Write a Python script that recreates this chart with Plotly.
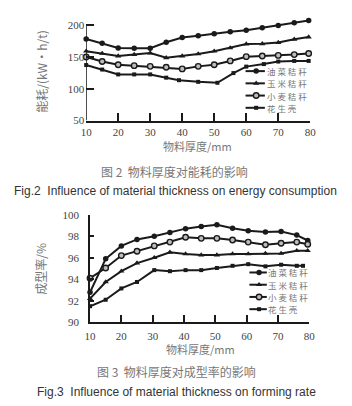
import plotly.graph_objects as go

W, H = 352, 406

# ---------------- data ----------------
series_names = ["油菜秸秆", "玉米秸秆", "小麦秸秆", "花生壳"]

# Fig.2 energy consumption (kW·h/t) vs material thickness (mm)
x_energy = [10, 15, 20, 25, 30, 35, 40, 45, 50, 55, 60, 65, 70, 75, 79.5]
x_energy_peanut = [10, 15, 20, 25, 30, 35, 39, 45, 51, 56, 60, 65.5, 70, 75, 79.5]
rape_energy = [178.6, 172, 164.4, 164, 164, 173.5, 181, 183.7, 187, 190, 192.4, 196.4, 200, 204, 207.6]
corn_energy = [159.3, 155.8, 151.7, 154, 156.3, 149, 151.7, 155, 159.3, 164.4, 170.5, 171, 173, 178, 181.7]
wheat_energy = [150.2, 143, 138, 136.5, 135.4, 134, 131.4, 135.4, 138, 144, 150.7, 151.7, 152.7, 154, 155.8]
peanut_energy = [137.5, 130.4, 122.7, 122.7, 122.7, 117.6, 113.6, 111, 109.5, 124.8, 135, 139, 143, 144, 144]

# Fig.3 forming rate (%) vs material thickness (mm)
x_rate = [10, 15, 20, 25, 30.5, 35.5, 40.5, 45.5, 50.5, 55.5, 60.5, 66, 71, 76, 79.5]
x_rate_peanut = [10, 15, 20, 25, 30.5, 35.5, 40.5, 45.5, 50.5, 55.5, 60.5, 66, 71, 76, 78]
rape_rate = [92.8, 95.9, 97.1, 97.7, 98.0, 98.35, 98.7, 98.9, 99.07, 98.74, 98.5, 98.4, 98.44, 98.1, 97.6]
corn_rate = [92.2, 93.75, 94.75, 95.5, 96.0, 96.5, 96.35, 96.25, 96.25, 96.35, 96.35, 96.4, 96.4, 96.65, 96.65]
wheat_rate = [94.1, 95.05, 96.2, 96.6, 97.1, 97.45, 97.9, 97.8, 97.8, 97.65, 97.45, 97.2, 97.35, 97.45, 97.25]
peanut_rate = [91.5, 92.1, 93.15, 93.75, 94.85, 94.75, 94.85, 94.85, 95.05, 95.25, 95.4, 95.2, 95.35, 95.25, 95.25]

x_ticks = [10, 20, 30, 40, 50, 60, 70, 80]
energy_ticks = [50, 100, 150, 200]
rate_ticks = [90, 92, 94, 96, 98, 100]

# ---------------- styles ----------------
LINE = "#1a1a1a"
markers = [
    dict(symbol="circle", size=5.5, color=LINE),
    dict(symbol="triangle-up", size=5.5, color=LINE),
    dict(symbol="circle", size=5.5, color="#bdbdbd", line=dict(color=LINE, width=1.4)),
    dict(symbol="square", size=4, color=LINE),
]
serif = "Liberation Serif"
cjk = "Noto Sans CJK SC"

fig = go.Figure()

top_sets = [(x_energy, rape_energy), (x_energy, corn_energy), (x_energy, wheat_energy), (x_energy_peanut, peanut_energy)]
bot_sets = [(x_rate, rape_rate), (x_rate, corn_rate), (x_rate, wheat_rate), (x_rate_peanut, peanut_rate)]

for (xs, ys), mk, nm in zip(top_sets, markers, series_names):
    fig.add_trace(go.Scatter(x=xs, y=ys, mode="lines+markers", name=nm, xaxis="x", yaxis="y",
                             line=dict(color=LINE, width=2), marker=mk, showlegend=False, cliponaxis=False))
for (xs, ys), mk, nm in zip(bot_sets, markers, series_names):
    fig.add_trace(go.Scatter(x=xs, y=ys, mode="lines+markers", name=nm, xaxis="x2", yaxis="y2",
                             line=dict(color=LINE, width=2), marker=mk, showlegend=False, cliponaxis=False))

# ---------------- custom legends (pixel overlay axis) ----------------
LEG_FS = 8.5
LEG_STEP = 12.6

def legend(x0, x1, xm, yc, xt):
    n = len(series_names)
    ys = [yc + (i - (n - 1) / 2) * LEG_STEP for i in range(n)]
    for i, (nm, mk) in enumerate(zip(series_names, markers)):
        fig.add_trace(go.Scatter(x=[x0, x1], y=[ys[i], ys[i]], mode="lines", xaxis="x3", yaxis="y3",
                                 line=dict(color=LINE, width=2), showlegend=False, hoverinfo="skip"))
        fig.add_trace(go.Scatter(x=[xm], y=[ys[i]], mode="markers", xaxis="x3", yaxis="y3",
                                 marker=mk, showlegend=False, hoverinfo="skip"))
        fig.add_annotation(x=xt, y=ys[i], xref="x3", yref="y3", text=" ".join(nm),
                           showarrow=False, xanchor="left", yanchor="middle", borderpad=0,
                           font=dict(family=cjk, size=LEG_FS, color="#777"))

legend(248, 268, 259, 86, 269)
legend(252, 270, 262, 293.5, 270)

# ---------------- axes ----------------
def px_y(py):
    return 1 - py / H

tick_font = dict(family=serif, size=11, color="#444")

fig.update_layout(
    width=W, height=H,
    margin=dict(l=0, r=0, t=0, b=0),
    paper_bgcolor="white", plot_bgcolor="rgba(0,0,0,0)",
    showlegend=False,
    xaxis=dict(domain=[83 / W, 315 / W], range=[10, 80], anchor="y", tickvals=x_ticks,
               ticks="inside", ticklen=8, tickcolor=LINE, tickwidth=1.5,
               showline=True, linecolor=LINE, linewidth=1.5, showgrid=False, zeroline=False,
               tickfont=tick_font, ticklabelstandoff=1),
    yaxis=dict(domain=[px_y(118), px_y(118 - 160 * 98 / 150)], range=[50, 210], anchor="x",
               tickvals=energy_ticks, ticks="inside", ticklen=8, tickcolor=LINE, tickwidth=1.5,
               showline=False, showgrid=False, zeroline=False, tickfont=tick_font,
               ticklabelstandoff=1),
    xaxis2=dict(domain=[87 / W, 314 / W], range=[10, 80], anchor="y2", tickvals=x_ticks,
                ticks="inside", ticklen=8, tickcolor=LINE, tickwidth=1.5,
                showline=True, linecolor=LINE, linewidth=1.5, showgrid=False, zeroline=False,
                tickfont=tick_font, ticklabelstandoff=3),
    yaxis2=dict(domain=[px_y(326), px_y(215)], range=[90, 100], anchor="x2",
                tickvals=rate_ticks, ticks="inside", ticklen=4, tickcolor=LINE, tickwidth=1.5,
                showline=True, linecolor=LINE, linewidth=1.5, showgrid=False, zeroline=False,
                tickfont=tick_font, ticklabelstandoff=7),
    xaxis3=dict(domain=[0, 1], range=[0, W], anchor="y3", visible=False, fixedrange=True),
    yaxis3=dict(domain=[0, 1], range=[H, 0], anchor="x3", visible=False, fixedrange=True),
)

# left axis line of Fig.2 (stops at 200)
fig.add_shape(type="line", xref="x", yref="y", x0=10, x1=10, y0=50, y1=200,
              line=dict(color=LINE, width=1.5))

# ---------------- texts ----------------
def txt(x, y, s, font, angle=0):
    fig.add_annotation(x=x, y=y, xref="x3", yref="y3", text=s, showarrow=False,
                       xanchor="center", yanchor="middle", textangle=angle, font=font)

cap_cn = dict(family=cjk, size=12, color="#777")
txt(36, 67, "能耗/(kW·h/t)", dict(family=cjk, size=12, color="#777"), -90)
txt(198, 144, "物料厚度/mm", dict(family=cjk, size=11, color="#777"))
txt(174, 171, "图 2  物料厚度对能耗的影响", cap_cn)
txt(175, 191, "Fig.2  Influence of material thickness on energy consumption",
    dict(family="Liberation Sans", size=12, color="#333"))

txt(36, 271, "成型率/%", dict(family=cjk, size=12, color="#777"), -90)
txt(201, 353, "物料厚度/mm", dict(family=cjk, size=11, color="#777"))
txt(176, 377, "图 3  物料厚度对成型率的影响", cap_cn)
txt(176, 398, "Fig.3  Influence of material thickness on forming rate",
    dict(family="Liberation Sans", size=12, color="#333"))

fig.write_html("out.html")
